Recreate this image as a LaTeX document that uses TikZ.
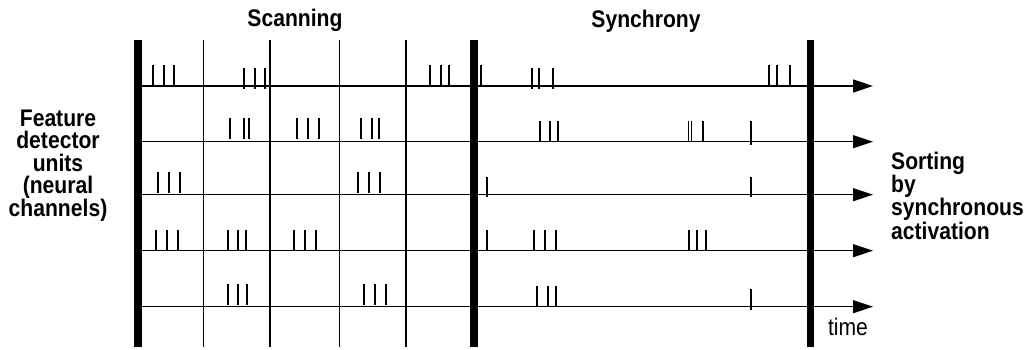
\documentclass[tikz,border=0pt]{standalone}
\usepackage{fontspec}
\setmainfont{Liberation Sans}
\newfontfamily\lblfont{Liberation Sans}[FakeStretch=0.88]
\usetikzlibrary{arrows.meta}

\begin{document}
\begin{tikzpicture}[x=1pt,y=-1pt,
  bar/.style={line width=8pt},
  divider/.style={line width=1.3pt},
  track/.style={line width=1.4pt, -{Triangle[length=20pt,width=13pt]}},
  spike/.style={line width=1.8pt},
  heading/.style={font=\lblfont\bfseries\fontsize{24}{22.3}\selectfont, inner sep=0pt},
  tag/.style={font=\lblfont\fontsize{24}{24}\selectfont, inner sep=0pt},
]
\useasboundingbox (0,0) rectangle (1026,350);

% time axes of the five channels
\foreach \yy [count=\i] in {86,141.7,194.7,250.7,306.7} {
  \coordinate (s\i) at (138,\yy);
  \coordinate (e\i) at (873,\yy);
  \draw[track] (s\i) -- (e\i);
}

% thin dividers of the scanning window
\foreach \xx [count=\i] in {203.3,270,339.3,406} {
  \coordinate (dt\i) at (\xx,40);
  \coordinate (db\i) at (\xx,347);
  \draw[divider] (dt\i) -- (db\i);
}

% thick window borders
\coordinate (b1t) at (138,40);   \coordinate (b1b) at (138,347);
\coordinate (b2t) at (474,40);   \coordinate (b2b) at (474,347);
\coordinate (b3t) at (810.3,40); \coordinate (b3b) at (810.3,347);
\draw[bar] (b1t) -- (b1b);
\draw[bar] (b2t) -- (b2b);
\draw[bar, line width=7.5pt] (b3t) -- (b3b);

% spikes: x / top / bottom
\foreach \xx/\tt/\bb in {
  152.7/65/86, 163.7/65/86, 174.3/65/86,
  244/67.7/88.7, 254.7/67.7/88.7, 265/67.7/88.7,
  430/65/86, 440.7/65/86, 449.3/65/86,
  481/65/86,
  531.7/67.7/88.7, 539.3/67.7/88.7, 553.3/67.7/88.7,
  769.3/65/86, 777/65/86, 790.3/65/86,
  230.3/118.3/139.3, 243.7/118.3/139.3, 249/118.3/139.3,
  296.7/118.3/139.3, 307.7/118.3/139.3, 318.7/118.3/139.3,
  360.7/118.3/139.3, 371.7/118.3/139.3, 379.3/118.3/139.3,
  540/120.7/141.7, 550.3/120.7/141.7, 558.3/120.7/141.7,
  702.7/120.7/141.7,
  750.7/120.7/145,
  157.7/171.7/192.7, 169/171.7/192.7, 180/171.7/192.7,
  358/171.7/192.7, 368.7/171.7/192.7, 380/171.7/192.7,
  486.7/176.7/197.3, 750.7/176.7/197.3,
  155.7/230/250.7, 166.7/230/250.7, 177.7/230/250.7,
  227.7/230/250.7, 237.7/230/250.7, 246.3/230/250.7,
  294/230/250.7, 305.3/230/250.7, 316/230/250.7,
  486.7/230/250.7,
  534.3/230/250.7, 545.3/230/250.7, 556/230/250.7,
  688.7/230/250.7, 697/230/250.7, 705.7/230/250.7,
  227.7/284/305, 238/284/305, 246.7/284/305,
  363.7/284/305, 374.7/284/305, 385.7/284/305,
  537/286/306.7, 547.7/286/306.7, 556/286/306.7,
  750.7/289.3/310}
  \draw[spike] (\xx,\tt) -- (\xx,\bb);
% a closely spaced pair of thin spikes
\foreach \xx in {688.8,691.6}
  \draw[spike, line width=1.1pt] (\xx,120.7) -- (\xx,141.7);

% labels (multi-line nodes are placed by the baseline of their last line)
\node[heading, anchor=base] (scan) at (295,26.5) {Scanning};
\node[heading, anchor=base] (sync) at (646,28) {Synchrony};
\node[heading, anchor=base, align=center] (units) at (58,216.7)
  {Feature\\detector\\units\\(neural\\channels)};
\node[heading, anchor=base west, align=left] (sort) at (891,239.3)
  {Sorting\\by\\synchronous\\activation};
\node[tag, anchor=base] (time) at (848,335) {time};
\end{tikzpicture}
\end{document}
